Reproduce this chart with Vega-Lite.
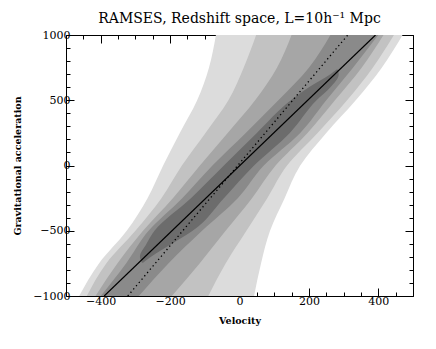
{
  "$schema": "https://vega.github.io/schema/vega-lite/v6.json",
  "width": 347,
  "height": 261,
  "autosize": {"type": "none"},
  "padding": {"left": 66, "top": 35, "right": 23, "bottom": 53},
  "background": "white",
  "title": {"text": "RAMSES, Redshift space, L=10h⁻¹ Mpc", "font": "DejaVu Serif", "fontSize": 14, "fontWeight": "normal", "color": "#000", "offset": 3},
  "config": {"view": {"stroke": "#000", "strokeWidth": 1}},
  "datasets": {
    "bands": [
      {"band": "b1", "g": -1000, "lo": -462, "hi": 42},
      {"band": "b1", "g": -750, "lo": -405, "hi": 62},
      {"band": "b1", "g": -500, "lo": -325, "hi": 88},
      {"band": "b1", "g": -250, "lo": -265, "hi": 130},
      {"band": "b1", "g": 0, "lo": -220, "hi": 175},
      {"band": "b1", "g": 250, "lo": -172, "hi": 250},
      {"band": "b1", "g": 500, "lo": -122, "hi": 335},
      {"band": "b1", "g": 750, "lo": -88, "hi": 410},
      {"band": "b1", "g": 1000, "lo": -68, "hi": 470},
      {"band": "b2", "g": -1000, "lo": -440, "hi": -90},
      {"band": "b2", "g": -750, "lo": -384, "hi": -40},
      {"band": "b2", "g": -500, "lo": -300, "hi": 20},
      {"band": "b2", "g": -250, "lo": -225, "hi": 80},
      {"band": "b2", "g": 0, "lo": -166, "hi": 137},
      {"band": "b2", "g": 250, "lo": -98, "hi": 225},
      {"band": "b2", "g": 500, "lo": -32, "hi": 310},
      {"band": "b2", "g": 750, "lo": 12, "hi": 384},
      {"band": "b2", "g": 1000, "lo": 48, "hi": 445},
      {"band": "b3", "g": -1000, "lo": -415, "hi": -195},
      {"band": "b3", "g": -750, "lo": -352, "hi": -115},
      {"band": "b3", "g": -500, "lo": -278, "hi": -40},
      {"band": "b3", "g": -250, "lo": -192, "hi": 36},
      {"band": "b3", "g": 0, "lo": -114, "hi": 104},
      {"band": "b3", "g": 250, "lo": -34, "hi": 196},
      {"band": "b3", "g": 500, "lo": 45, "hi": 275},
      {"band": "b3", "g": 750, "lo": 108, "hi": 352},
      {"band": "b3", "g": 1000, "lo": 150, "hi": 415},
      {"band": "b4", "g": -1000, "lo": -400, "hi": -290},
      {"band": "b4", "g": -750, "lo": -327, "hi": -205},
      {"band": "b4", "g": -500, "lo": -262, "hi": -108},
      {"band": "b4", "g": -250, "lo": -165, "hi": -5},
      {"band": "b4", "g": 0, "lo": -78, "hi": 70},
      {"band": "b4", "g": 250, "lo": 18, "hi": 175},
      {"band": "b4", "g": 500, "lo": 112, "hi": 250},
      {"band": "b4", "g": 750, "lo": 200, "hi": 327},
      {"band": "b4", "g": 1000, "lo": 262, "hi": 400},
      {"band": "b5", "g": -745, "lo": -281, "hi": -278},
      {"band": "b5", "g": -700, "lo": -287, "hi": -255},
      {"band": "b5", "g": -600, "lo": -268, "hi": -195},
      {"band": "b5", "g": -500, "lo": -245, "hi": -135},
      {"band": "b5", "g": -250, "lo": -140, "hi": -45},
      {"band": "b5", "g": 0, "lo": -45, "hi": 42},
      {"band": "b5", "g": 250, "lo": 50, "hi": 145},
      {"band": "b5", "g": 500, "lo": 148, "hi": 222},
      {"band": "b5", "g": 600, "lo": 200, "hi": 262},
      {"band": "b5", "g": 700, "lo": 262, "hi": 286},
      {"band": "b5", "g": 735, "lo": 280, "hi": 283}
    ],
    "lines": [
      {"kind": "solid", "v": -390, "g": -1000},
      {"kind": "solid", "v": 392, "g": 1000},
      {"kind": "dotted", "v": -322, "g": -1000},
      {"kind": "dotted", "v": 312, "g": 1000}
    ]
  },
  "layer": [
    {
      "data": {"name": "bands"},
      "transform": [{"filter": "datum.band === 'b1'"}],
      "mark": {"type": "area", "orient": "horizontal", "color": "#dcdcdc", "clip": true, "interpolate": "monotone"},
      "encoding": {
        "y": {"field": "g", "type": "quantitative", "scale": {"domain": [-1000, 1000], "nice": false, "zero": false},
          "axis": {"orient": "left", "values": [-1000,-900,-800,-700,-600,-500,-400,-300,-200,-100,0,100,200,300,400,500,600,700,800,900,1000],
            "format": "d",
            "labelExpr": "datum.value % 500 === 0 ? datum.label : ''",
            "tickSize": {"condition": {"test": "datum.value % 500 === 0", "value": -8}, "value": -4},
            "tickColor": "#000", "grid": false, "domain": false, "labelFont": "DejaVu Serif", "labelFontSize": 11, "labelColor": "#000", "labelPadding": 4, "labelOverlap": false, "labelBound": false, "labelFlush": false,
            "title": "Gravitational acceleration", "titleFont": "DejaVu Serif", "titleFontSize": 9.5, "titleFontWeight": "bold", "titleColor": "#000", "titlePadding": 10}},
        "x": {"field": "lo", "type": "quantitative", "scale": {"domain": [-500, 500], "nice": false, "zero": false},
          "axis": {"orient": "bottom", "values": [-500,-450,-400,-350,-300,-250,-200,-150,-100,-50,0,50,100,150,200,250,300,350,400,450,500],
            "format": "d",
            "labelExpr": "datum.value % 200 === 0 ? datum.label : ''",
            "tickSize": {"condition": {"test": "datum.value % 200 === 0", "value": -8}, "value": -4},
            "tickColor": "#000", "grid": false, "domain": false, "labelFont": "DejaVu Serif", "labelFontSize": 11, "labelColor": "#000", "labelPadding": 7, "labelOverlap": false, "labelBound": false, "labelFlush": false,
            "title": "Velocity", "titleFont": "DejaVu Serif", "titleFontSize": 9.5, "titleFontWeight": "bold", "titleColor": "#000", "titlePadding": 5}},
        "x2": {"field": "hi"}
      }
    },
    {
      "data": {"name": "bands"},
      "transform": [{"filter": "datum.band === 'b2'"}],
      "mark": {"type": "area", "orient": "horizontal", "color": "#c2c2c2", "clip": true, "interpolate": "monotone"},
      "encoding": {
        "y": {"field": "g", "type": "quantitative",
          "axis": {"orient": "right", "values": [-1000,-900,-800,-700,-600,-500,-400,-300,-200,-100,0,100,200,300,400,500,600,700,800,900,1000],
            "labels": false, "title": null, "grid": false, "domain": false, "tickColor": "#000",
            "tickSize": {"condition": {"test": "datum.value % 500 === 0", "value": -8}, "value": -4}}},
        "x": {"field": "lo", "type": "quantitative",
          "axis": {"orient": "top", "values": [-500,-450,-400,-350,-300,-250,-200,-150,-100,-50,0,50,100,150,200,250,300,350,400,450,500],
            "labels": false, "title": null, "grid": false, "domain": false, "tickColor": "#000",
            "tickSize": {"condition": {"test": "datum.value % 200 === 0", "value": -8}, "value": -4}}},
        "x2": {"field": "hi"}
      }
    },
    {
      "data": {"name": "bands"},
      "transform": [{"filter": "datum.band === 'b3'"}],
      "mark": {"type": "area", "orient": "horizontal", "color": "#a6a6a6", "clip": true, "interpolate": "monotone"},
      "encoding": {
        "y": {"field": "g", "type": "quantitative", "axis": null},
        "x": {"field": "lo", "type": "quantitative", "axis": null},
        "x2": {"field": "hi"}
      }
    },
    {
      "data": {"name": "bands"},
      "transform": [{"filter": "datum.band === 'b4'"}],
      "mark": {"type": "area", "orient": "horizontal", "color": "#8a8a8a", "clip": true, "interpolate": "monotone"},
      "encoding": {
        "y": {"field": "g", "type": "quantitative", "axis": null},
        "x": {"field": "lo", "type": "quantitative", "axis": null},
        "x2": {"field": "hi"}
      }
    },
    {
      "data": {"name": "bands"},
      "transform": [{"filter": "datum.band === 'b5'"}],
      "mark": {"type": "area", "orient": "horizontal", "color": "#6c6c6c", "clip": true, "interpolate": "monotone"},
      "encoding": {
        "y": {"field": "g", "type": "quantitative", "axis": null},
        "x": {"field": "lo", "type": "quantitative", "axis": null},
        "x2": {"field": "hi"}
      }
    },
    {
      "data": {"name": "lines"},
      "transform": [{"filter": "datum.kind === 'solid'"}],
      "mark": {"type": "line", "color": "#000", "strokeWidth": 1.2, "clip": true},
      "encoding": {
        "x": {"field": "v", "type": "quantitative", "axis": null},
        "y": {"field": "g", "type": "quantitative", "axis": null}
      }
    },
    {
      "data": {"name": "lines"},
      "transform": [{"filter": "datum.kind === 'dotted'"}],
      "mark": {"type": "line", "color": "#000", "strokeWidth": 1.3, "strokeDash": [1.3, 3], "clip": true},
      "encoding": {
        "x": {"field": "v", "type": "quantitative", "axis": null},
        "y": {"field": "g", "type": "quantitative", "axis": null}
      }
    }
  ],
  "resolve": {"axis": {"x": "independent", "y": "independent"}}
}
